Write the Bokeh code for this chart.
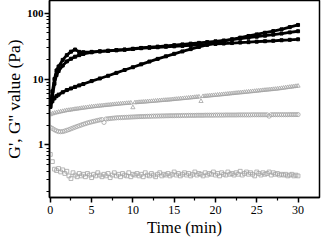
from bokeh.plotting import figure
from bokeh.models import FixedTicker
from bokeh.embed import file_html
from bokeh.resources import INLINE

# ---- data ----
t_black = [0, 0.25, 0.5, 0.75, 1, 1.5, 2, 2.5, 3, 3.5, 4, 5, 6, 7, 8, 9, 10,
           11, 12, 13, 14, 15, 16, 17, 18, 19, 20, 21, 22, 23, 24, 25, 26, 27,
           28, 29, 30]
g_bump = [4.0, 6.5, 10.0, 13.5, 15.5, 19.5, 23.0, 26.0, 28.0, 25.8, 25.5, 25.8,
          26.3, 26.8, 27.3, 27.8, 28.5, 29.3, 29.8, 30.3, 30.8, 31.3, 31.8,
          32.4, 33.0, 33.5, 34.0, 34.5, 35.1, 35.7, 36.2, 36.8, 37.4, 38.0,
          38.7, 39.3, 40.0]
g_smooth = [3.8, 5.5, 8.5, 11.5, 13.2, 16.0, 18.5, 20.3, 21.8, 23.0, 24.0, 25.4,
            26.2, 26.8, 27.4, 28.0, 28.8, 29.6, 30.3, 31.0, 31.8, 32.6, 33.5,
            34.4, 35.3, 36.3, 37.3, 38.4, 39.6, 40.9, 42.3, 43.8, 45.4, 47.1,
            48.9, 50.9, 53.0]
g_steep = [3.8, 4.6, 5.1, 5.5, 5.8, 6.3, 6.8, 7.2, 7.6, 8.0, 8.4, 9.3, 10.2,
           11.2, 12.4, 13.7, 15.1, 16.7, 18.4, 20.2, 22.1, 24.1, 26.2, 28.4,
           30.7, 33.0, 35.3, 37.6, 40.0, 42.4, 44.9, 47.5, 50.3, 53.3, 56.6,
           61.2, 66.0]

t_gray = [0, 0.25, 0.5, 0.75, 1, 1.25, 1.5, 1.75, 2,
          2.25, 2.5, 2.75, 3, 3.25, 3.5, 3.75, 4,
          4.25, 4.5, 4.75, 5, 5.25, 5.5, 5.75, 6,
          6.25, 6.5, 6.75, 7, 7.25, 7.5, 7.75, 8,
          8.25, 8.5, 8.75, 9, 9.25, 9.5, 9.75, 10,
          10.25, 10.5, 10.75, 11, 11.25, 11.5, 11.75, 12,
          12.25, 12.5, 12.75, 13, 13.25, 13.5, 13.75, 14,
          14.25, 14.5, 14.75, 15, 15.25, 15.5, 15.75, 16,
          16.25, 16.5, 16.75, 17, 17.25, 17.5, 17.75, 18,
          18.25, 18.5, 18.75, 19, 19.25, 19.5, 19.75, 20,
          20.25, 20.5, 20.75, 21, 21.25, 21.5, 21.75, 22,
          22.25, 22.5, 22.75, 23, 23.25, 23.5, 23.75, 24,
          24.25, 24.5, 24.75, 25, 25.25, 25.5, 25.75, 26,
          26.25, 26.5, 26.75, 27, 27.25, 27.5, 27.75, 28,
          28.25, 28.5, 28.75, 29, 29.25, 29.5, 29.75, 30]
g_tri = [2.90, 2.98, 3.05, 3.10, 3.15, 3.20, 3.25, 3.30, 3.35,
         3.38, 3.42, 3.46, 3.50, 3.53, 3.57, 3.61, 3.65,
         3.68, 3.72, 3.76, 3.80, 3.83, 3.86, 3.89, 3.92,
         3.95, 3.98, 4.01, 4.04, 4.07, 4.10, 4.13, 4.16,
         4.19, 4.22, 4.25, 4.27, 4.30, 4.32, 4.35, 3.70,
         4.40, 4.42, 4.45, 4.47, 4.50, 4.52, 4.55, 4.58,
         4.60, 4.63, 4.66, 4.69, 4.72, 4.75, 4.78, 4.80,
         4.83, 4.86, 4.90, 4.93, 4.97, 5.00, 5.04, 5.07,
         5.11, 5.14, 5.18, 5.22, 5.26, 5.30, 5.34, 5.38,
         4.60, 5.46, 5.50, 5.54, 5.58, 5.62, 5.66, 5.70,
         5.74, 5.78, 5.82, 5.86, 5.90, 5.95, 6.00, 6.04,
         6.08, 6.13, 6.18, 6.22, 6.26, 6.31, 6.36, 6.40,
         6.45, 6.50, 6.55, 6.60, 6.65, 6.70, 6.75, 6.80,
         6.85, 6.90, 6.95, 7.00, 7.05, 7.10, 7.18, 7.25,
         7.32, 7.40, 7.48, 7.55, 7.62, 7.70, 7.78, 7.85]
g_circ = [1.85, 1.78, 1.70, 1.64, 1.60, 1.59, 1.60, 1.63, 1.67,
          1.71, 1.76, 1.81, 1.86, 1.91, 1.96, 2.01, 2.06,
          2.11, 2.16, 2.20, 2.24, 2.28, 2.32, 2.36, 2.40,
          2.43, 2.20, 2.48, 2.50, 2.52, 2.54, 2.56, 2.58,
          2.59, 2.60, 2.61, 2.62, 2.63, 2.64, 2.65, 2.66,
          2.67, 2.68, 2.69, 2.70, 2.70, 2.71, 2.72, 2.72,
          2.73, 2.74, 2.74, 2.75, 2.75, 2.76, 2.76, 2.77,
          2.77, 2.78, 2.78, 2.78, 2.79, 2.79, 2.79, 2.80,
          2.80, 2.80, 2.81, 2.81, 2.81, 2.81, 2.82, 2.82,
          2.82, 2.82, 2.83, 2.83, 2.83, 2.83, 2.83, 2.84,
          2.84, 2.84, 2.84, 2.84, 2.85, 2.85, 2.85, 2.85,
          2.85, 2.85, 2.86, 2.86, 2.86, 2.86, 2.86, 2.86,
          2.86, 2.87, 2.87, 2.87, 2.87, 2.87, 2.87, 2.87,
          2.87, 2.74, 2.88, 2.88, 2.88, 2.88, 2.88, 2.88,
          2.88, 2.88, 2.88, 2.89, 2.89, 2.89, 2.89, 2.89]
g_sq = [0.72, 0.56, 0.43, 0.41, 0.44, 0.39, 0.42, 0.37, 0.40,
        0.34, 0.31, 0.38, 0.35, 0.33, 0.37, 0.34, 0.36,
        0.33, 0.37, 0.35, 0.32, 0.36, 0.34, 0.38, 0.35,
        0.33, 0.36, 0.34, 0.37, 0.32, 0.35, 0.38, 0.34,
        0.36, 0.33, 0.37, 0.35, 0.34, 0.38, 0.33, 0.36,
        0.35, 0.37, 0.34, 0.36, 0.33, 0.38, 0.35, 0.34,
        0.37, 0.35, 0.33, 0.36, 0.38, 0.34, 0.36, 0.35,
        0.37, 0.34, 0.36, 0.39, 0.35, 0.37, 0.34, 0.36,
        0.38, 0.35, 0.37, 0.34, 0.36, 0.39, 0.35, 0.37,
        0.36, 0.34, 0.38, 0.35, 0.37, 0.36, 0.39, 0.35,
        0.37, 0.34, 0.38, 0.36, 0.35, 0.39, 0.36, 0.37,
        0.35, 0.38, 0.36, 0.40, 0.35, 0.37, 0.39, 0.36,
        0.38, 0.36, 0.34, 0.39, 0.37, 0.35, 0.38, 0.36,
        0.37, 0.39, 0.35, 0.38, 0.36, 0.37, 0.35, 0.36,
        0.35, 0.36, 0.34, 0.35, 0.36, 0.34, 0.35, 0.34]

x_ticks = [0, 5, 10, 15, 20, 25, 30]
x_minor = [2.5, 7.5, 12.5, 17.5, 22.5, 27.5]
y_ticks = [1, 10, 100]
y_tick_labels = ["1", "10", "100"]
y_minor = [0.2, 0.3, 0.4, 0.5, 0.6, 0.7, 0.8, 0.9,
           2, 3, 4, 5, 6, 7, 8, 9, 20, 30, 40, 50, 60, 70, 80, 90]

FONT = "Liberation Serif"
GRAY = "#a3a3a3"

p = figure(width=323, height=239, y_axis_type="log",
           x_range=(-0.1, 32.6), y_range=(0.16, 155),
           output_backend="svg", toolbar_location=None,
           min_border_left=37, min_border_right=4, min_border_top=0,
           min_border_bottom=38)
p.background_fill_color = "white"
p.border_fill_color = "white"
p.xgrid.visible = False
p.ygrid.visible = False
p.outline_line_color = "black"
p.outline_line_width = 1.5

# gray open-marker series
p.scatter(t_gray, g_tri, marker="triangle", size=4.2, fill_color=None,
          line_color=GRAY, line_width=0.8)
p.scatter(t_gray, g_circ, marker="circle", size=4.2, fill_color=None,
          line_color=GRAY, line_width=0.8)
p.scatter(t_gray, g_sq, marker="square", size=3.8, fill_color=None,
          line_color=GRAY, line_width=0.8)

# black filled-square series
for ys in (g_bump, g_smooth, g_steep):
    p.line(t_black, ys, line_color="black", line_width=2.8)
    p.scatter(t_black, ys, marker="square", size=3, fill_color="black",
              line_color="black")

# axes
p.xaxis.ticker = FixedTicker(ticks=x_ticks, minor_ticks=x_minor)
p.yaxis.ticker = FixedTicker(ticks=y_ticks, minor_ticks=y_minor)
p.yaxis.major_label_overrides = {v: s for v, s in zip(y_ticks, y_tick_labels)}

for ax in (p.xaxis[0], p.yaxis[0]):
    ax.axis_line_width = 1.5
    ax.axis_line_color = "black"
    ax.major_tick_line_width = 1.5
    ax.minor_tick_line_width = 1.2
    ax.major_tick_out = 5
    ax.major_tick_in = 0
    ax.minor_tick_out = 3
    ax.minor_tick_in = 0
    ax.major_label_text_font = FONT
    ax.major_label_text_color = "black"
    ax.axis_label_text_font = FONT
    ax.axis_label_text_font_style = "normal"
    ax.axis_label_text_color = "black"

p.xaxis.axis_label = "Time (min)"
p.xaxis.axis_label_text_font_size = "16.5px"
p.xaxis.major_label_text_font_size = "12px"
p.xaxis.major_label_standoff = 3
p.xaxis.axis_label_standoff = 1

p.yaxis.axis_label = "G', G'' value (Pa)"
p.yaxis.axis_label_text_font_size = "17.5px"
p.yaxis.major_label_text_font_size = "11px"
p.yaxis.major_label_text_font_style = "bold"
p.yaxis.major_label_standoff = 1
p.yaxis.axis_label_standoff = 0

open("out.html", "w").write(file_html(p, INLINE))
